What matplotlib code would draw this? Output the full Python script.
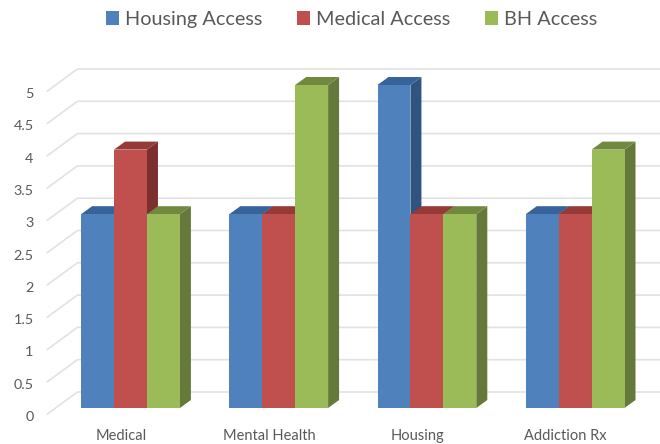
import matplotlib
matplotlib.use("Agg")
import matplotlib.pyplot as plt
from matplotlib.patches import Polygon, Patch
from matplotlib.transforms import ScaledTranslation

categories = ["Medical", "Mental Health", "Housing", "Addiction Rx"]
series_names = ["Housing Access", "Medical Access", "BH Access"]
housing_access = [3, 3, 5, 3]
medical_access = [4, 3, 3, 3]
bh_access = [3, 5, 3, 4]
y_ticks = [0, 0.5, 1, 1.5, 2, 2.5, 3, 3.5, 4, 4.5, 5]
y_tick_labels = ["0", "0.5", "1", "1.5", "2", "2.5", "3", "3.5", "4", "4.5", "5"]

FRONT = ["#4f81bd", "#c0504d", "#9bbb59"]
TOP = ["#37639a", "#963a38", "#71893f"]
SIDE = ["#2f5480", "#7d2f2d", "#64793a"]
TEXT = "#595959"
GRID = "#e2e2e2"

W, H = 660, 444
plt.rcParams["font.family"] = ["Lato", "DejaVu Sans"]
fig = plt.figure(figsize=(W / 100, H / 100), dpi=100)

PITCH, UNIT = 148.2, 64.6
left_px, bottom_px = 56.4, H - 408
ax = fig.add_axes([left_px / W, bottom_px / H, 4 * PITCH / W, 5 * UNIT / H])
ax.set_xlim(-0.5, 3.5)
ax.set_ylim(0, 5)
ax.patch.set_visible(False)
for s in ax.spines.values():
    s.set_visible(False)

px = 1 / PITCH
py = 1 / UNIT
bar_w = 1 / 4.5
bar_dx, bar_dy = 11 * px, 8 * py

# wall gridlines with the diagonal floor/side returns
x_wall_front = -0.5 - 9 * px
x_wall_back = x_wall_front + 30 * px
y_front = -6 * py
y_back = 16 * py
x_end = x_wall_back + 584 * px
for t in y_ticks:
    ax.plot([x_wall_front, x_wall_back, x_end], [t + y_front, t + y_back, t + y_back],
            color=GRID, lw=1.2, clip_on=False, zorder=1, solid_joinstyle="miter")

all_series = [housing_access, medical_access, bh_access]
z = 2
for c in range(len(categories)):
    for k, vals in enumerate(all_series):
        v = vals[c]
        x0 = c + (k - 1.5) * bar_w
        x1 = x0 + bar_w
        ax.add_patch(Polygon([(x1, 0), (x1 + bar_dx, bar_dy), (x1 + bar_dx, v + bar_dy), (x1, v)],
                             closed=True, fc=SIDE[k], ec="none", zorder=z, clip_on=False))
        ax.add_patch(Polygon([(x0, v), (x0 + bar_dx, v + bar_dy), (x1 + bar_dx, v + bar_dy), (x1, v)],
                             closed=True, fc=TOP[k], ec="none", zorder=z, clip_on=False))
        ax.bar(x0, v, width=bar_w, align="edge", color=FRONT[k], zorder=z + 0.5, clip_on=False)
        z += 1

ax.set_yticks(y_ticks, y_tick_labels)
ax.set_xticks(range(len(categories)), categories)
ax.tick_params(axis="y", length=0, labelsize=10.4, labelcolor=TEXT, pad=16.5)
ax.tick_params(axis="x", length=0, labelsize=10.5, labelcolor=TEXT, pad=15)
shift = ScaledTranslation(0, -8 / 100, fig.dpi_scale_trans)
for lab in ax.get_yticklabels():
    lab.set_transform(lab.get_transform() + shift)
shift_x = ScaledTranslation(-9.5 / 100, 0, fig.dpi_scale_trans)
for lab in ax.get_xticklabels():
    lab.set_transform(lab.get_transform() + shift_x)

handles = [Patch(fc=c, ec="none") for c in FRONT]
fig.legend(handles, series_names, loc="upper left", bbox_to_anchor=(93 / W, 1 + 2 / H), ncol=3,
           frameon=False, fontsize=14.3, labelcolor=TEXT, handlelength=0.65, handleheight=0.65,
           handletextpad=0.3, columnspacing=1.75, borderpad=0.35, borderaxespad=0.3)

fig.savefig("out.png", dpi=100)
